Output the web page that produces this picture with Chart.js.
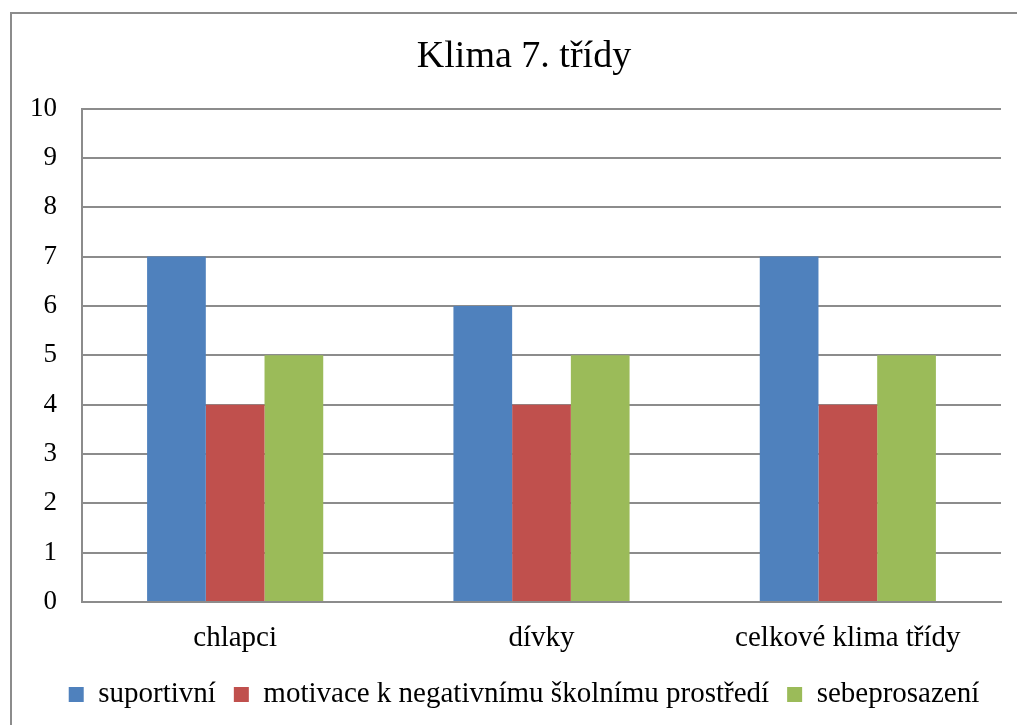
<!DOCTYPE html>
<html lang="cs">
<head>
    <meta charset="UTF-8">
    <title>Klima 7. třídy</title>
    <style>
        body {
            margin: 0;
            padding: 0;
            background-color: #fff;
        }
        #wrap {
            width: 1017px;
            height: 725px;
        }
    </style>
</head>
<body>
    <div id="wrap"><canvas id="chart"></canvas></div>
    <script src="https://cdn.jsdelivr.net/npm/chart.js"></script>
    <script>
        const categories = ['chlapci', 'dívky', 'celkové klima třídy'];
        const suportivni = [7, 6, 7];
        const motivace = [4, 4, 4];
        const sebeprosazeni = [5, 5, 5];
        const seriesNames = ['suportivní', 'motivace k negativnímu školnímu prostředí', 'sebeprosazení'];

        const serif = "'Liberation Serif', 'Times New Roman', serif";

        // frame round the chart, open at right and bottom like the original
        const framePlugin = {
            id: 'frame',
            beforeDraw(chart) {
                const ctx = chart.ctx;
                ctx.save();
                ctx.strokeStyle = '#8c8c8c';
                ctx.lineWidth = 2;
                ctx.strokeRect(11, 13, 1020, 730);
                ctx.restore();
            }
        };

        new Chart(document.getElementById('chart'), {
            type: 'bar',
            data: {
                labels: categories,
                datasets: [
                    { label: seriesNames[0], data: suportivni, backgroundColor: '#4F81BD' },
                    { label: seriesNames[1], data: motivace, backgroundColor: '#C0504D' },
                    { label: seriesNames[2], data: sebeprosazeni, backgroundColor: '#9BBB59' }
                ]
            },
            options: {
                responsive: true,
                maintainAspectRatio: false,
                animation: false,
                categoryPercentage: 0.575,
                barPercentage: 1,
                layout: {
                    padding: { left: 47, right: 16, top: 0, bottom: 6 }
                },
                plugins: {
                    title: {
                        display: true,
                        text: 'Klima 7. třídy',
                        color: '#000',
                        font: { family: serif, size: 38, weight: 'normal' },
                        padding: { top: 34, bottom: 29 }
                    },
                    legend: {
                        position: 'bottom',
                        labels: {
                            color: '#000',
                            font: { family: serif, size: 29 },
                            boxWidth: 15,
                            boxHeight: 15,
                            padding: 18
                        }
                    },
                    tooltip: { enabled: false }
                },
                scales: {
                    x: {
                        grid: { display: false, drawTicks: false },
                        border: { color: '#8c8c8c', width: 2 },
                        ticks: {
                            color: '#000',
                            font: { family: serif, size: 29 },
                            padding: 19
                        },
                        afterFit: (scale) => { scale.height = 60; }
                    },
                    y: {
                        min: 0,
                        max: 10,
                        grid: { color: '#8c8c8c', lineWidth: 2, drawTicks: false },
                        border: { color: '#8c8c8c', width: 2 },
                        ticks: {
                            stepSize: 1,
                            color: '#000',
                            font: { family: serif, size: 27 },
                            // mirrored + negative padding puts labels left of the axis without clipping
                            mirror: true,
                            crossAlign: 'far',
                            padding: -52
                        },
                        afterFit: (scale) => { scale.width = 35; }
                    }
                }
            },
            plugins: [framePlugin]
        });
    </script>
</body>
</html>
